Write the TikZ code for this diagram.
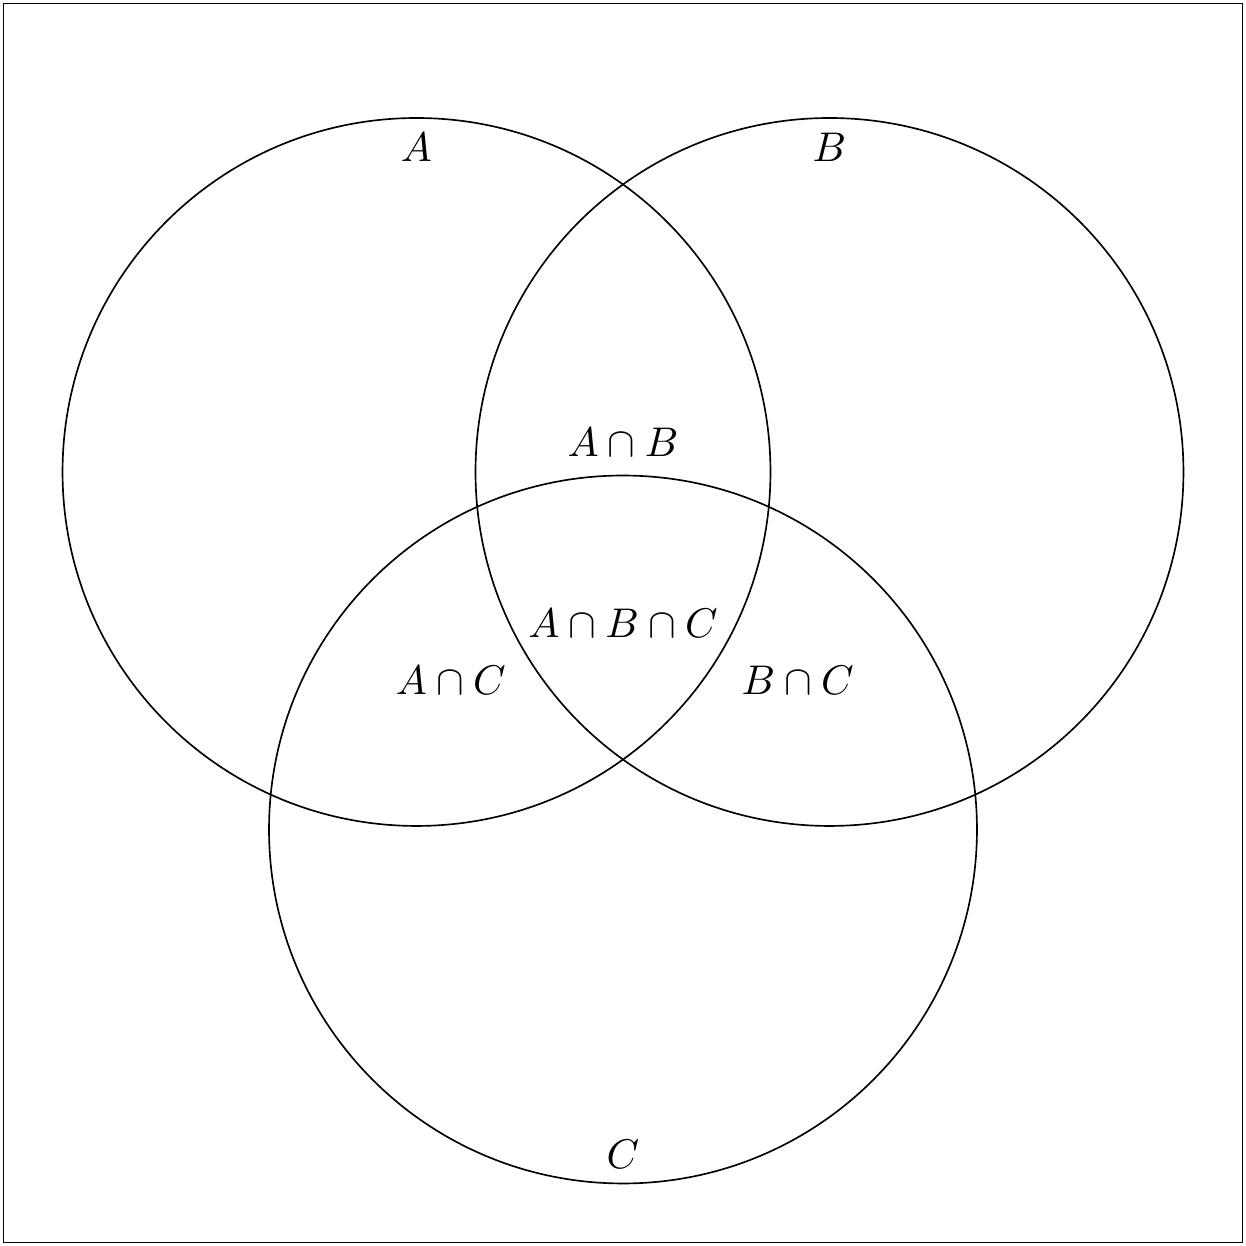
\documentclass[tikz,border=0pt]{standalone}
\begin{document}
\begin{tikzpicture}[setcircle/.style={draw,circle,minimum size=6cm,inner sep=0pt}]
\useasboundingbox (-3.53,-6.56) rectangle (7.03,4.0);
\node[draw,rectangle,minimum width=10.5cm,minimum height=10.5cm,inner sep=0pt] (U) at (1.75,-1.28) {};
\node[setcircle] (A) at (0,0) {};
\node[setcircle] (B) at (3.5,0) {};
\node[setcircle] (C) at (1.75,-3.03) {};
\node (la) at (0,2.75) {$A$};
\node (lb) at (3.5,2.75) {$B$};
\node (lc) at (1.75,-5.78) {$C$};
\node (ab) at (1.75,0.25) {$A\cap B$};
\node (abc) at (1.75,-1.28) {$A\cap B\cap C$};
\node (ac) at (0.29,-1.77) {$A\cap C$};
\node (bc) at (3.23,-1.77) {$B\cap C$};
\end{tikzpicture}
\end{document}
